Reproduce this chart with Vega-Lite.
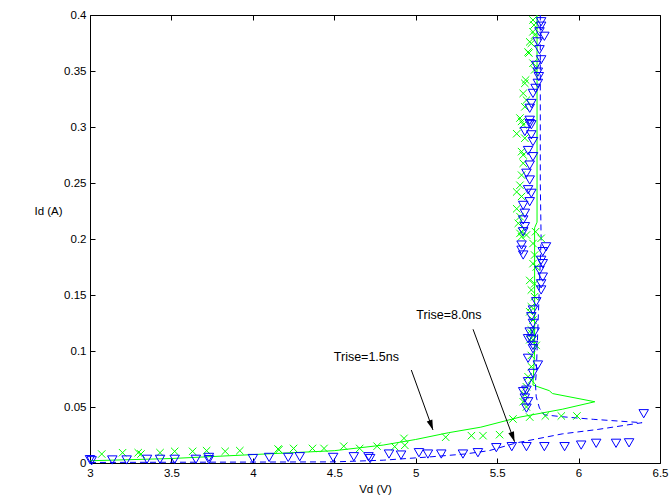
{
  "$schema": "https://vega.github.io/schema/vega-lite/v6.json",
  "width": 570,
  "height": 448,
  "autosize": "none",
  "padding": {"left": 90, "top": 15, "right": 10, "bottom": 39},
  "background": "white",
  "config": {
    "view": {"stroke": null},
    "font": "Liberation Sans",
    "axis": {
      "domainColor": "black",
      "tickColor": "black",
      "labelColor": "black",
      "titleColor": "black",
      "labelFont": "Liberation Sans",
      "titleFont": "Liberation Sans",
      "labelFontSize": 11.5,
      "titleFontSize": 11.5,
      "titleFontWeight": "normal",
      "grid": false,
      "tickSize": -5
    }
  },
  "datasets": {
    "lines": [
      {"s": "g", "i": 1, "vd": 3.0, "id": 0.002},
      {"s": "g", "i": 2, "vd": 3.5, "id": 0.004},
      {"s": "g", "i": 3, "vd": 4.0, "id": 0.0075},
      {"s": "g", "i": 4, "vd": 4.5, "id": 0.011},
      {"s": "g", "i": 5, "vd": 4.8, "id": 0.016},
      {"s": "g", "i": 6, "vd": 5.0, "id": 0.021},
      {"s": "g", "i": 7, "vd": 5.2, "id": 0.027},
      {"s": "g", "i": 8, "vd": 5.4, "id": 0.032},
      {"s": "g", "i": 9, "vd": 5.64, "id": 0.041},
      {"s": "g", "i": 10, "vd": 5.9, "id": 0.048},
      {"s": "g", "i": 11, "vd": 6.1, "id": 0.0547},
      {"s": "g", "i": 12, "vd": 5.84, "id": 0.062},
      {"s": "g", "i": 13, "vd": 5.82, "id": 0.0646},
      {"s": "g", "i": 14, "vd": 5.72, "id": 0.0696},
      {"s": "g", "i": 15, "vd": 5.73, "id": 0.1},
      {"s": "g", "i": 16, "vd": 5.73, "id": 0.15},
      {"s": "g", "i": 17, "vd": 5.73, "id": 0.21},
      {"s": "g", "i": 18, "vd": 5.745, "id": 0.215},
      {"s": "g", "i": 19, "vd": 5.745, "id": 0.3},
      {"s": "g", "i": 20, "vd": 5.745, "id": 0.4},
      {"s": "b", "i": 1, "vd": 3.0, "id": 0.0005},
      {"s": "b", "i": 2, "vd": 4.5, "id": 0.001},
      {"s": "b", "i": 3, "vd": 4.8, "id": 0.0025},
      {"s": "b", "i": 4, "vd": 5.1, "id": 0.0056},
      {"s": "b", "i": 5, "vd": 5.3, "id": 0.008},
      {"s": "b", "i": 6, "vd": 5.45, "id": 0.011},
      {"s": "b", "i": 7, "vd": 5.62, "id": 0.018},
      {"s": "b", "i": 8, "vd": 5.9, "id": 0.026},
      {"s": "b", "i": 9, "vd": 6.12, "id": 0.03},
      {"s": "b", "i": 10, "vd": 6.39, "id": 0.036},
      {"s": "b", "i": 11, "vd": 6.09, "id": 0.039},
      {"s": "b", "i": 12, "vd": 5.9, "id": 0.0413},
      {"s": "b", "i": 13, "vd": 5.79, "id": 0.043},
      {"s": "b", "i": 14, "vd": 5.76, "id": 0.049},
      {"s": "b", "i": 15, "vd": 5.74, "id": 0.059},
      {"s": "b", "i": 16, "vd": 5.735, "id": 0.071},
      {"s": "b", "i": 17, "vd": 5.74, "id": 0.08},
      {"s": "b", "i": 18, "vd": 5.75, "id": 0.12},
      {"s": "b", "i": 19, "vd": 5.76, "id": 0.16},
      {"s": "b", "i": 20, "vd": 5.77, "id": 0.2},
      {"s": "b", "i": 21, "vd": 5.765, "id": 0.25},
      {"s": "b", "i": 22, "vd": 5.765, "id": 0.4}
    ],
    "gx": [
      {"vd": 3.072, "id": 0.008}, {"vd": 3.2, "id": 0.0092}, {"vd": 3.296, "id": 0.0092}, {"vd": 3.313, "id": 0.008},
      {"vd": 3.43, "id": 0.0092}, {"vd": 3.52, "id": 0.0104}, {"vd": 3.63, "id": 0.0104}, {"vd": 3.716, "id": 0.011},
      {"vd": 3.83, "id": 0.0104}, {"vd": 3.92, "id": 0.011}, {"vd": 4.155, "id": 0.0125}, {"vd": 4.16, "id": 0.0118},
      {"vd": 4.25, "id": 0.013}, {"vd": 4.366, "id": 0.013}, {"vd": 4.437, "id": 0.013}, {"vd": 4.558, "id": 0.015},
      {"vd": 4.656, "id": 0.013}, {"vd": 4.763, "id": 0.015}, {"vd": 4.871, "id": 0.0146}, {"vd": 4.933, "id": 0.0158},
      {"vd": 4.928, "id": 0.022}, {"vd": 5.184, "id": 0.023}, {"vd": 5.342, "id": 0.0244}, {"vd": 5.413, "id": 0.0244},
      {"vd": 5.515, "id": 0.0253}, {"vd": 5.597, "id": 0.0393}, {"vd": 5.7, "id": 0.041}, {"vd": 5.796, "id": 0.042},
      {"vd": 5.894, "id": 0.042}, {"vd": 5.99, "id": 0.042},
      {"vd": 5.68, "id": 0.05}, {"vd": 5.66, "id": 0.0547}, {"vd": 5.67, "id": 0.061}, {"vd": 5.68, "id": 0.068},
      {"vd": 5.71, "id": 0.074}, {"vd": 5.69, "id": 0.077}, {"vd": 5.71, "id": 0.086}, {"vd": 5.71, "id": 0.096},
      {"vd": 5.74, "id": 0.105}, {"vd": 5.7, "id": 0.11}, {"vd": 5.72, "id": 0.11}, {"vd": 5.71, "id": 0.116},
      {"vd": 5.71, "id": 0.1188}, {"vd": 5.72, "id": 0.1277}, {"vd": 5.7, "id": 0.135}, {"vd": 5.71, "id": 0.1395},
      {"vd": 5.73, "id": 0.1485}, {"vd": 5.71, "id": 0.1545}, {"vd": 5.73, "id": 0.16}, {"vd": 5.7, "id": 0.163},
      {"vd": 5.74, "id": 0.175}, {"vd": 5.72, "id": 0.178}, {"vd": 5.73, "id": 0.1857}, {"vd": 5.72, "id": 0.196},
      {"vd": 5.77, "id": 0.2006}, {"vd": 5.68, "id": 0.2036}, {"vd": 5.64, "id": 0.205}, {"vd": 5.65, "id": 0.202},
      {"vd": 5.736, "id": 0.2065}, {"vd": 5.65, "id": 0.2065}, {"vd": 5.63, "id": 0.214}, {"vd": 5.64, "id": 0.22},
      {"vd": 5.62, "id": 0.227}, {"vd": 5.65, "id": 0.238}, {"vd": 5.62, "id": 0.242}, {"vd": 5.64, "id": 0.248},
      {"vd": 5.65, "id": 0.257}, {"vd": 5.66, "id": 0.2676}, {"vd": 5.66, "id": 0.275}, {"vd": 5.65, "id": 0.278},
      {"vd": 5.67, "id": 0.29}, {"vd": 5.62, "id": 0.294}, {"vd": 5.65, "id": 0.305}, {"vd": 5.66, "id": 0.302},
      {"vd": 5.64, "id": 0.308}, {"vd": 5.67, "id": 0.318}, {"vd": 5.68, "id": 0.324}, {"vd": 5.66, "id": 0.33},
      {"vd": 5.67, "id": 0.339}, {"vd": 5.675, "id": 0.342}, {"vd": 5.73, "id": 0.351}, {"vd": 5.72, "id": 0.357},
      {"vd": 5.695, "id": 0.366}, {"vd": 5.69, "id": 0.367}, {"vd": 5.71, "id": 0.3747}, {"vd": 5.7, "id": 0.376},
      {"vd": 5.73, "id": 0.382}, {"vd": 5.72, "id": 0.385}, {"vd": 5.726, "id": 0.391}, {"vd": 5.72, "id": 0.3955}
    ],
    "bt": [
      {"vd": 3.0, "id": 0.003}, {"vd": 3.01, "id": 0.002}, {"vd": 3.137, "id": 0.0027}, {"vd": 3.225, "id": 0.0027},
      {"vd": 3.35, "id": 0.0033}, {"vd": 3.43, "id": 0.0033}, {"vd": 3.52, "id": 0.0033}, {"vd": 3.65, "id": 0.0033},
      {"vd": 3.73, "id": 0.005}, {"vd": 3.73, "id": 0.003}, {"vd": 4.0, "id": 0.004}, {"vd": 4.1, "id": 0.005},
      {"vd": 4.217, "id": 0.005}, {"vd": 4.288, "id": 0.0056}, {"vd": 4.493, "id": 0.005}, {"vd": 4.62, "id": 0.0056},
      {"vd": 4.71, "id": 0.0056}, {"vd": 4.72, "id": 0.004}, {"vd": 4.836, "id": 0.008}, {"vd": 4.91, "id": 0.0071},
      {"vd": 5.02, "id": 0.0092}, {"vd": 5.075, "id": 0.008}, {"vd": 5.157, "id": 0.008}, {"vd": 5.29, "id": 0.008},
      {"vd": 5.382, "id": 0.0092}, {"vd": 5.495, "id": 0.0137}, {"vd": 5.59, "id": 0.0146}, {"vd": 5.68, "id": 0.0146},
      {"vd": 5.79, "id": 0.0146}, {"vd": 5.914, "id": 0.0146}, {"vd": 6.016, "id": 0.016}, {"vd": 6.108, "id": 0.0176},
      {"vd": 6.23, "id": 0.0176}, {"vd": 6.31, "id": 0.018}, {"vd": 6.4, "id": 0.044},
      {"vd": 5.68, "id": 0.049}, {"vd": 5.69, "id": 0.0547}, {"vd": 5.67, "id": 0.058}, {"vd": 5.66, "id": 0.0637},
      {"vd": 5.68, "id": 0.065}, {"vd": 5.69, "id": 0.0726}, {"vd": 5.72, "id": 0.08}, {"vd": 5.75, "id": 0.0875},
      {"vd": 5.69, "id": 0.0935}, {"vd": 5.72, "id": 0.102}, {"vd": 5.72, "id": 0.105}, {"vd": 5.69, "id": 0.111},
      {"vd": 5.71, "id": 0.11}, {"vd": 5.7, "id": 0.117}, {"vd": 5.73, "id": 0.117}, {"vd": 5.72, "id": 0.1247},
      {"vd": 5.71, "id": 0.1306}, {"vd": 5.72, "id": 0.1366}, {"vd": 5.74, "id": 0.144}, {"vd": 5.77, "id": 0.1545},
      {"vd": 5.77, "id": 0.16}, {"vd": 5.78, "id": 0.166}, {"vd": 5.76, "id": 0.172}, {"vd": 5.78, "id": 0.178},
      {"vd": 5.77, "id": 0.181}, {"vd": 5.66, "id": 0.1857}, {"vd": 5.78, "id": 0.1887}, {"vd": 5.65, "id": 0.19},
      {"vd": 5.8, "id": 0.193}, {"vd": 5.65, "id": 0.1946}, {"vd": 5.66, "id": 0.2065}, {"vd": 5.67, "id": 0.211},
      {"vd": 5.66, "id": 0.217}, {"vd": 5.67, "id": 0.223}, {"vd": 5.66, "id": 0.23}, {"vd": 5.7, "id": 0.2333},
      {"vd": 5.71, "id": 0.2408}, {"vd": 5.69, "id": 0.244}, {"vd": 5.7, "id": 0.2527}, {"vd": 5.68, "id": 0.2587},
      {"vd": 5.7, "id": 0.266}, {"vd": 5.72, "id": 0.2735}, {"vd": 5.69, "id": 0.279}, {"vd": 5.72, "id": 0.287},
      {"vd": 5.71, "id": 0.293}, {"vd": 5.67, "id": 0.296}, {"vd": 5.7, "id": 0.303}, {"vd": 5.71, "id": 0.302},
      {"vd": 5.7, "id": 0.306}, {"vd": 5.7, "id": 0.3167}, {"vd": 5.71, "id": 0.321}, {"vd": 5.72, "id": 0.33},
      {"vd": 5.736, "id": 0.3345}, {"vd": 5.75, "id": 0.339}, {"vd": 5.756, "id": 0.345}, {"vd": 5.75, "id": 0.349},
      {"vd": 5.74, "id": 0.355}, {"vd": 5.77, "id": 0.36}, {"vd": 5.76, "id": 0.369}, {"vd": 5.75, "id": 0.376},
      {"vd": 5.79, "id": 0.381}, {"vd": 5.76, "id": 0.385}, {"vd": 5.77, "id": 0.39}, {"vd": 5.77, "id": 0.394}
    ],
    "arrows": [
      {"vd": 4.973, "id": 0.083, "vd2": 5.106, "id2": 0.0295},
      {"vd": 5.352, "id": 0.1194, "vd2": 5.607, "id2": 0.019}
    ],
    "labels": [
      {"vd": 4.497, "id": 0.095, "t": "Trise=1.5ns"},
      {"vd": 5.004, "id": 0.132, "t": "Trise=8.0ns"}
    ]
  },
  "resolve": {"axis": {"x": "independent", "y": "independent"}},
  "layer": [
    {
      "data": {"name": "lines"},
      "transform": [{"filter": "datum.s === 'g'"}],
      "mark": {"type": "line", "color": "#00ff00", "strokeWidth": 1, "clip": false},
      "encoding": {
        "x": {"field": "vd", "type": "quantitative",
              "scale": {"domain": [3, 6.5], "nice": false, "zero": false},
              "axis": {"orient": "bottom", "title": "Vd (V)", "values": [3, 3.5, 4, 4.5, 5, 5.5, 6, 6.5],
                       "format": ".1~f", "labelPadding": 9, "titlePadding": 5, "labelFlush": false}},
        "y": {"field": "id", "type": "quantitative",
              "scale": {"domain": [0, 0.4], "nice": false, "zero": false},
              "axis": {"orient": "left", "title": "Id (A)", "values": [0, 0.05, 0.1, 0.15, 0.2, 0.25, 0.3, 0.35, 0.4],
                       "format": ".2~f", "labelPadding": 9, "labelFlush": false,
                       "titleAngle": 0, "titleX": -42, "titleY": 196, "titleAlign": "center", "titleBaseline": "middle"}},
        "order": {"field": "i", "type": "quantitative"}
      }
    },
    {
      "data": {"name": "lines"},
      "transform": [{"filter": "datum.s === 'b'"}],
      "mark": {"type": "line", "color": "#0000ff", "strokeWidth": 1, "strokeDash": [6, 4], "clip": false},
      "encoding": {
        "x": {"field": "vd", "type": "quantitative",
              "axis": {"orient": "top", "title": null, "labels": false, "values": [3, 3.5, 4, 4.5, 5, 5.5, 6, 6.5]}},
        "y": {"field": "id", "type": "quantitative",
              "axis": {"orient": "right", "title": null, "labels": false, "values": [0, 0.05, 0.1, 0.15, 0.2, 0.25, 0.3, 0.35, 0.4]}},
        "order": {"field": "i", "type": "quantitative"}
      }
    },
    {
      "data": {"name": "gx"},
      "mark": {"type": "point", "shape": "M-1,-1L1,1M-1,1L1,-1", "filled": false, "stroke": "#00ff00", "strokeWidth": 1, "size": 55, "opacity": 1},
      "encoding": {
        "x": {"field": "vd", "type": "quantitative", "axis": null},
        "y": {"field": "id", "type": "quantitative", "axis": null}
      }
    },
    {
      "data": {"name": "bt"},
      "mark": {"type": "point", "shape": "triangle-down", "filled": false, "stroke": "#0000ff", "strokeWidth": 1, "size": 90, "opacity": 1},
      "encoding": {
        "x": {"field": "vd", "type": "quantitative", "axis": null},
        "y": {"field": "id", "type": "quantitative", "axis": null}
      }
    },
    {
      "data": {"name": "arrows"},
      "mark": {"type": "rule", "color": "black", "strokeWidth": 1},
      "encoding": {
        "x": {"field": "vd", "type": "quantitative", "axis": null},
        "y": {"field": "id", "type": "quantitative", "axis": null},
        "x2": {"field": "vd2"},
        "y2": {"field": "id2"}
      }
    },
    {
      "data": {"name": "arrows"},
      "mark": {"type": "point", "shape": "M0,0L-0.3,1L0.3,1Z", "filled": true, "color": "black", "size": 400, "angle": 160, "opacity": 1},
      "encoding": {
        "x": {"field": "vd2", "type": "quantitative", "axis": null},
        "y": {"field": "id2", "type": "quantitative", "axis": null}
      }
    },
    {
      "data": {"name": "labels"},
      "mark": {"type": "text", "align": "left", "baseline": "middle", "font": "Liberation Sans", "fontSize": 12.5, "color": "black"},
      "encoding": {
        "x": {"field": "vd", "type": "quantitative", "axis": null},
        "y": {"field": "id", "type": "quantitative", "axis": null},
        "text": {"field": "t"}
      }
    }
  ]
}
